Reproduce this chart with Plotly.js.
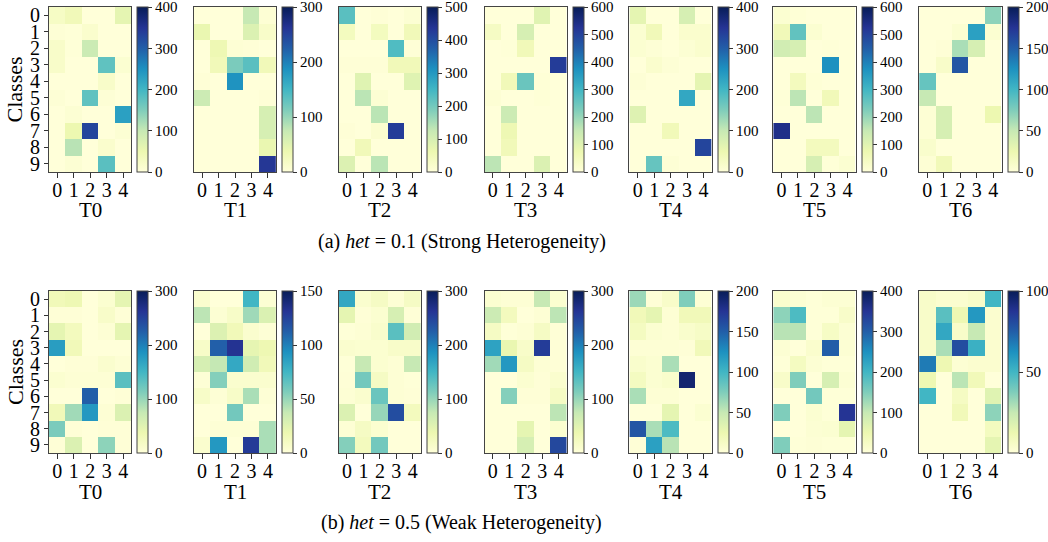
<!DOCTYPE html>
<html><head><meta charset="utf-8">
<script src="https://cdn.plot.ly/plotly-3.0.1.min.js"></script>
<style>html,body{margin:0;padding:0;background:#fff}#chart{width:1048px;height:542px}</style>
</head><body><div id="chart"></div>
<script>
const classes = [0,1,2,3,4,5,6,7,8,9];
const clients = [0,1,2,3,4];
const taskNames = ['T0','T1','T2','T3','T4','T5','T6'];
const captionStrong = '(a) <i>het</i> = 0.1 (Strong Heterogeneity)';
const captionWeak = '(b) <i>het</i> = 0.5 (Weak Heterogeneity)';

const strongT0 = [[25,40,0,0,60],[5,3,15,0,0],[20,3,95,0,0],[20,0,0,175,10],[0,0,0,20,0],[5,0,175,5,0],[0,8,0,0,230],[0,50,330,0,8],[0,110,0,15,0],[0,8,0,180,0]];
const strongT1 = [[0,0,0,75,5],[40,0,0,55,15],[0,35,5,3,0],[0,30,115,135,30],[3,0,185,0,0],[70,0,0,0,3],[0,0,0,0,60],[0,0,0,0,60],[0,0,0,0,40],[0,0,0,0,260]];
const strongT2 = [[225,0,5,0,10],[40,0,40,0,50],[0,0,0,235,5],[5,5,5,50,50],[0,85,0,0,85],[0,135,10,0,0],[0,0,135,0,0],[5,0,15,425,0],[0,50,0,0,0],[90,0,135,0,0]];
const strongT3 = [[0,0,0,100,0],[40,0,120,0,0],[0,3,60,0,0],[0,0,0,0,510],[0,60,250,5,0],[10,0,0,5,0],[0,140,0,0,0],[0,70,0,0,0],[0,60,0,0,0],[160,0,0,110,0]];
const strongT4 = [[60,0,0,80,0],[10,40,0,15,15],[10,5,0,8,15],[0,15,5,0,0],[5,0,0,0,60],[0,0,0,220,0],[70,0,0,0,0],[0,0,40,0,0],[0,0,0,0,330],[0,170,5,0,0]];
const strongT5 = [[15,5,0,0,0],[60,260,15,0,0],[130,120,0,3,0],[0,0,0,375,0],[0,50,5,0,0],[3,160,0,60,0],[0,0,160,0,0],[540,0,0,0,0],[0,0,50,50,0],[0,0,120,3,15]];
const strongT6 = [[0,0,0,0,70],[0,0,5,115,5],[0,2,60,40,0],[0,10,155,0,0],[85,0,0,0,0],[50,0,0,0,0],[3,40,0,0,25],[3,40,0,0,0],[8,0,0,0,0],[3,20,0,0,0]];

const weakT0 = [[30,35,0,8,45],[3,3,0,15,3],[45,25,0,5,45],[175,30,0,0,0],[0,3,3,10,5],[8,5,5,5,135],[0,0,225,0,3],[30,95,180,5,55],[115,3,0,3,3],[3,55,0,105,3]];
const weakT1 = [[5,0,0,75,3],[40,3,8,48,28],[0,27,15,5,2],[8,112,132,22,18],[30,38,82,33,15],[2,55,5,5,5],[8,2,8,45,2],[0,0,60,0,0],[0,2,2,2,45],[5,90,0,128,45]];
const weakT2 = [[165,10,20,5,20],[45,3,8,60,3],[2,5,12,135,65],[10,8,8,15,15],[2,75,8,5,75],[3,120,20,5,2],[5,10,125,5,3],[55,0,100,240,25],[5,20,8,0,0],[110,25,120,0,0]];
const weakT3 = [[8,5,5,75,8],[70,25,0,5,80],[20,2,5,20,3],[170,40,15,255,3],[95,180,20,5,3],[0,0,8,3,10],[0,110,3,3,20],[0,0,0,0,80],[0,0,45,0,8],[0,0,60,0,245]];
const weakT4 = [[65,2,10,75,3],[20,30,3,20,20],[15,5,3,8,12],[3,3,3,2,20],[8,5,60,0,0],[15,5,8,190,0],[60,3,3,0,0],[0,0,30,0,5],[155,60,95,0,0],[2,115,55,0,0]];
const weakT5 = [[15,8,3,8,8],[140,190,3,3,20],[110,110,3,25,8],[8,0,15,300,8],[3,30,8,3,3],[20,150,0,80,8],[0,0,160,3,3],[150,0,10,3,350],[0,0,8,10,60],[150,3,5,3,3]];
const weakT6 = [[5,3,3,5,50],[5,45,12,60,3],[5,55,5,25,3],[5,30,80,52,3],[68,12,2,3,3],[12,0,27,10,0],[50,0,7,0,17],[0,0,10,0,35],[0,0,0,0,8],[0,0,0,0,15]];

const strongMax = [400,300,500,600,400,600,200];
const strongStep = [100,100,100,100,100,100,50];
const weakMax = [300,150,300,300,200,400,100];
const weakStep = [100,50,100,100,50,100,50];

const strongData = [strongT0,strongT1,strongT2,strongT3,strongT4,strongT5,strongT6];
const weakData = [weakT0,weakT1,weakT2,weakT3,weakT4,weakT5,weakT6];

const W = 1048, H = 542;
const FONT = 'Liberation Serif, Times New Roman, serif';
const cs = [[0,'#ffffd9'],[0.125,'#edf8b1'],[0.25,'#c7e9b4'],[0.375,'#7fcdbb'],[0.5,'#41b6c4'],[0.625,'#1d91c0'],[0.75,'#225ea8'],[0.875,'#253494'],[1,'#081d58']];
const lefts = [49,194,339,485,630,774,920];
const pw = 82.5;
const rows = [{top:7,bot:172,data:strongData,max:strongMax,step:strongStep,cap:captionStrong,capY:242,tY:210},
              {top:291,bot:453,data:weakData,max:weakMax,step:weakStep,cap:captionWeak,capY:522,tY:492}];

const traces = [];
const layout = {width:W,height:H,margin:{l:0,r:0,t:0,b:0},paper_bgcolor:'#fff',plot_bgcolor:'#fff',
  font:{family:FONT,color:'#000'},showlegend:false,annotations:[]};
let n = 0;
rows.forEach((row, r) => {
  for (let i = 0; i < 7; i++) {
    n++;
    const xs = n === 1 ? '' : String(n);
    const x0 = lefts[i], x1 = lefts[i] + pw;
    const tv = [];
    for (let v = 0; v <= row.max[i] + 1e-9; v += row.step[i]) tv.push(v);
    traces.push({type:'heatmap', z:row.data[i], x:clients, y:classes, xaxis:'x'+xs, yaxis:'y'+xs,
      colorscale:cs, zmin:0, zmax:row.max[i], hoverinfo:'skip',
      colorbar:{x:(x1+5)/W, xanchor:'left', xref:'paper', y:1-row.top/H, yanchor:'top', yref:'paper',
        len:row.bot-row.top, lenmode:'pixels', thickness:11, thicknessmode:'pixels', xpad:0, ypad:0,
        outlinewidth:1, outlinecolor:'#444', ticks:'outside', ticklen:4, tickwidth:1, tickcolor:'#333',
        ticklabeloverflow:'allow',
        tickvals:tv, ticktext:tv.map(String), tickfont:{family:FONT,size:15,color:'#000'}}});
    layout['xaxis'+xs] = {domain:[x0/W, x1/W], anchor:'y'+xs, range:[-0.5,4.5], tickvals:clients,
      ticks:'outside', ticklen:5, tickcolor:'#333', tickfont:{family:FONT,size:20,color:'#000'},
      ticklabelstandoff:-5,
      showline:true, mirror:true, linecolor:'#444', linewidth:1, showgrid:false, zeroline:false, fixedrange:true};
    layout['yaxis'+xs] = {domain:[1-row.bot/H, 1-row.top/H], anchor:'x'+xs, range:[9.5,-0.5], tickvals:classes,
      ticks: i===0 ? 'outside' : '', ticklen:4, tickcolor:'#333', showticklabels: i===0,
      tickfont:{family:FONT,size:20,color:'#000'},
      showline:true, mirror:true, linecolor:'#444', linewidth:1, showgrid:false, zeroline:false, fixedrange:true};
    layout.annotations.push({xref:'paper',yref:'paper',x:(x0+x1)/2/W,y:1-row.tY/H,xanchor:'center',yanchor:'middle',
      text:taskNames[i],showarrow:false,font:{family:FONT,size:21,color:'#000'}});
  }
  layout.annotations.push({xref:'paper',yref:'paper',x:15/W,y:1-((row.top+row.bot)/2)/H,xanchor:'center',yanchor:'middle',
    text:'Classes',textangle:-90,showarrow:false,font:{family:FONT,size:22,color:'#000'}});
  layout.annotations.push({xref:'paper',yref:'paper',x:462/W,y:1-row.capY/H,xanchor:'center',yanchor:'middle',
    text:row.cap,showarrow:false,font:{family:FONT,size:20,color:'#000'}});
});
Plotly.newPlot('chart', traces, layout, {staticPlot:true, displayModeBar:false});
</script></body></html>
